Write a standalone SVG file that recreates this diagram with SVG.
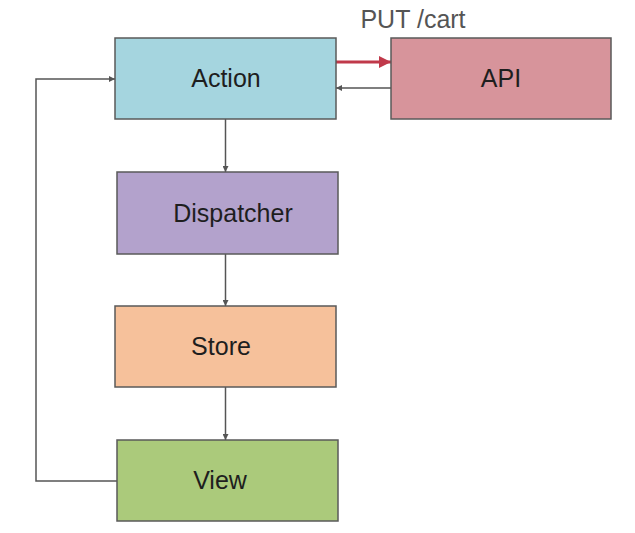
<svg xmlns="http://www.w3.org/2000/svg" width="635" height="533" viewBox="0 0 635 533">
<defs>
<style>
.box{stroke:#5a5a5a;stroke-width:1.5}
.lbl{font-family:"Liberation Sans",Arial,sans-serif;font-size:25px;fill:#1e1e1e;text-anchor:middle}
.ln{fill:none;stroke:#555;stroke-width:1.5}
</style>
<marker id="ah" viewBox="0 0 10 10" refX="10" refY="5" markerWidth="6" markerHeight="6" orient="auto" markerUnits="userSpaceOnUse"><path d="M0,0 L10,5 L0,10 z" fill="#555"/></marker>
<marker id="ahr" viewBox="0 0 10 10" refX="10" refY="5" markerWidth="12" markerHeight="12" orient="auto" markerUnits="userSpaceOnUse"><path d="M0,0 L10,5 L0,10 z" fill="#c0394a"/></marker>
</defs>
<rect width="635" height="533" fill="#fff"/>
<g id="connectors">
<line class="ln" x1="225.5" y1="119" x2="225.5" y2="172" marker-end="url(#ah)"/>
<line class="ln" x1="225.5" y1="254" x2="225.5" y2="306" marker-end="url(#ah)"/>
<line class="ln" x1="225.5" y1="387" x2="225.5" y2="440" marker-end="url(#ah)"/>
<polyline class="ln" points="117,481 36,481 36,79 115,79" marker-end="url(#ah)"/>
<line x1="336" y1="62" x2="391" y2="62" stroke="#c0394a" stroke-width="3" marker-end="url(#ahr)"/>
<line class="ln" x1="391" y1="88" x2="336" y2="88" marker-end="url(#ah)"/>
<text x="413" y="28" style="font-family:'Liberation Sans',Arial,sans-serif;font-size:25px;fill:#555;text-anchor:middle">PUT /cart</text>
</g>
<g id="action"><rect class="box" x="115" y="38" width="221" height="81" fill="#a5d5df"/><text class="lbl" x="226" y="87">Action</text></g>
<g id="api"><rect class="box" x="391" y="38" width="220" height="81" fill="#d7949b"/><text class="lbl" x="501" y="87">API</text></g>
<g id="dispatcher"><rect class="box" x="117" y="172" width="221" height="82" fill="#b3a2cc"/><text class="lbl" x="233" y="222">Dispatcher</text></g>
<g id="store"><rect class="box" x="115" y="306" width="221" height="81" fill="#f6c19b"/><text class="lbl" x="221" y="355">Store</text></g>
<g id="view"><rect class="box" x="117" y="440" width="221" height="81" fill="#abca7b"/><text class="lbl" x="220" y="489">View</text></g>
</svg>
